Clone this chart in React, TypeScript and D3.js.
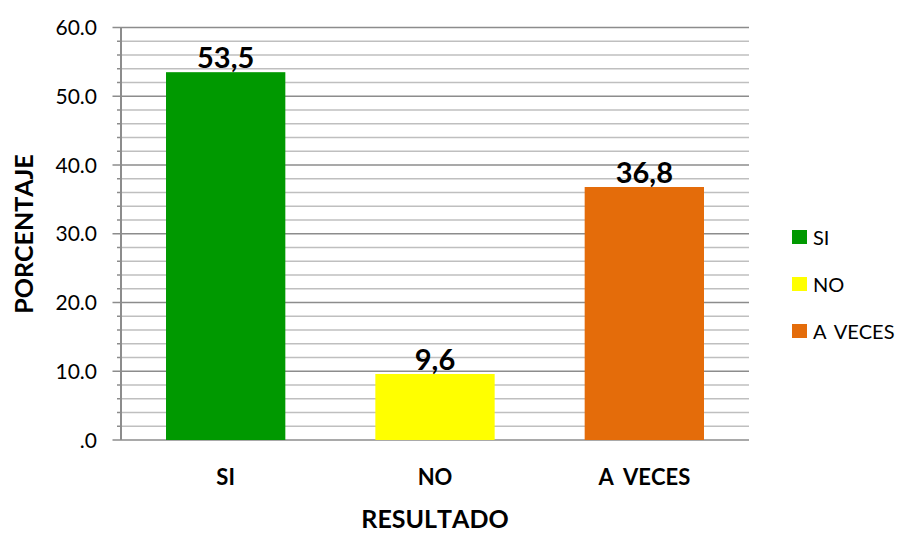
import React from 'react';
import * as d3 from 'd3';

const categories = ['SI', 'NO', 'A VECES'];
const values = [53.5, 9.6, 36.8];
const colors = ['#009900', '#FFFF00', '#E46C0A'];
const majorTicks = [0, 10, 20, 30, 40, 50, 60];
const minorTicks = d3.range(0, 61, 2);

const App = () => {
  const ref = React.useRef<SVGSVGElement>(null);

  React.useEffect(() => {
    const svg = d3.select(ref.current);
    svg.selectAll('*').remove();

    const width = 903;
    const height = 533;
    const left = 121;
    const right = 749;
    const top = 27.5;
    const bottom = 440;
    const font = 'Lato, Calibri, "Open Sans", sans-serif';

    const x = d3.scaleBand<string>()
      .domain(categories)
      .range([left, right])
      .paddingInner(0.43)
      .paddingOuter(0.215);

    const y = d3.scaleLinear().domain([0, 60]).range([bottom, top]);

    svg.attr('width', width).attr('height', height)
      .style('position', 'absolute')
      .style('left', '0px')
      .style('top', '0px')
      .style('font-kerning', 'none');

    // Minor gridlines
    svg.append('g')
      .selectAll('line')
      .data(minorTicks.filter((t) => t % 10 !== 0))
      .join('line')
      .attr('x1', left)
      .attr('x2', right)
      .attr('y1', (d) => y(d))
      .attr('y2', (d) => y(d))
      .attr('stroke', '#bfbfbf')
      .attr('stroke-width', 1.5);

    // Major gridlines + ticks
    svg.append('g')
      .selectAll('line')
      .data(majorTicks)
      .join('line')
      .attr('x1', left - 8.5)
      .attr('x2', right)
      .attr('y1', (d) => y(d))
      .attr('y2', (d) => y(d))
      .attr('stroke', '#8c8c8c')
      .attr('stroke-width', 1.5);

    // Minor tick marks on axis
    svg.append('g')
      .selectAll('line')
      .data(minorTicks.filter((t) => t % 10 !== 0))
      .join('line')
      .attr('x1', left - 4)
      .attr('x2', left)
      .attr('y1', (d) => y(d))
      .attr('y2', (d) => y(d))
      .attr('stroke', '#8c8c8c')
      .attr('stroke-width', 1.5);

    // Y axis line
    svg.append('line')
      .attr('x1', left)
      .attr('x2', left)
      .attr('y1', top)
      .attr('y2', bottom)
      .attr('stroke', '#8c8c8c')
      .attr('stroke-width', 2);

    // Y tick labels
    svg.append('g')
      .selectAll('text')
      .data(majorTicks)
      .join('text')
      .attr('x', 97)
      .attr('y', (d) => y(d) + 7.5)
      .attr('text-anchor', 'end')
      .attr('font-family', font)
      .attr('font-size', 21)
      .attr('fill', '#000')
      .text((d) => (d === 0 ? '.0' : d.toFixed(1)));

    // Bars
    svg.append('g')
      .selectAll('rect')
      .data(values)
      .join('rect')
      .attr('x', (_, i) => x(categories[i])!)
      .attr('width', x.bandwidth())
      .attr('y', (d) => y(d))
      .attr('height', (d) => bottom - y(d))
      .attr('fill', (_, i) => colors[i]);

    // Value labels
    svg.append('g')
      .selectAll('text')
      .data(values)
      .join('text')
      .attr('x', (_, i) => x(categories[i])! + x.bandwidth() / 2)
      .attr('y', (d) => y(d) - 4)
      .attr('text-anchor', 'middle')
      .attr('font-family', font)
      .attr('font-weight', 'bold')
      .attr('font-size', 29)
      .attr('fill', '#000')
      .text((d) => d.toFixed(1).replace('.', ','));

    // Category labels
    svg.append('g')
      .selectAll('text')
      .data(categories)
      .join('text')
      .attr('x', (d) => x(d)! + x.bandwidth() / 2)
      .attr('y', 485)
      .attr('text-anchor', 'middle')
      .attr('font-family', font)
      .attr('font-weight', 'bold')
      .attr('font-size', 22)
      .attr('word-spacing', 4)
      .attr('fill', '#000')
      .text((d) => d);

    // Axis titles
    svg.append('text')
      .attr('x', 435)
      .attr('y', 528)
      .attr('text-anchor', 'middle')
      .attr('font-family', font)
      .attr('font-weight', 'bold')
      .attr('font-size', 25)
      .attr('fill', '#000')
      .text('RESULTADO');

    svg.append('text')
      .attr('transform', `translate(33,${234}) rotate(-90)`)
      .attr('text-anchor', 'middle')
      .attr('font-family', font)
      .attr('font-weight', 'bold')
      .attr('font-size', 25)
      .attr('fill', '#000')
      .text('PORCENTAJE');

    // Legend
    const legend = svg.append('g')
      .selectAll('g')
      .data(categories)
      .join('g')
      .attr('transform', (_, i) => `translate(792,${230 + i * 47})`);

    legend.append('rect')
      .attr('width', 15)
      .attr('height', 14)
      .attr('fill', (_, i) => colors[i]);

    legend.append('text')
      .attr('x', 21)
      .attr('y', 15)
      .attr('font-family', font)
      .attr('font-size', 20)
      .attr('word-spacing', 2)
      .attr('fill', '#000')
      .text((d) => d);
  }, []);

  return <svg ref={ref} />;
};

export default App;
